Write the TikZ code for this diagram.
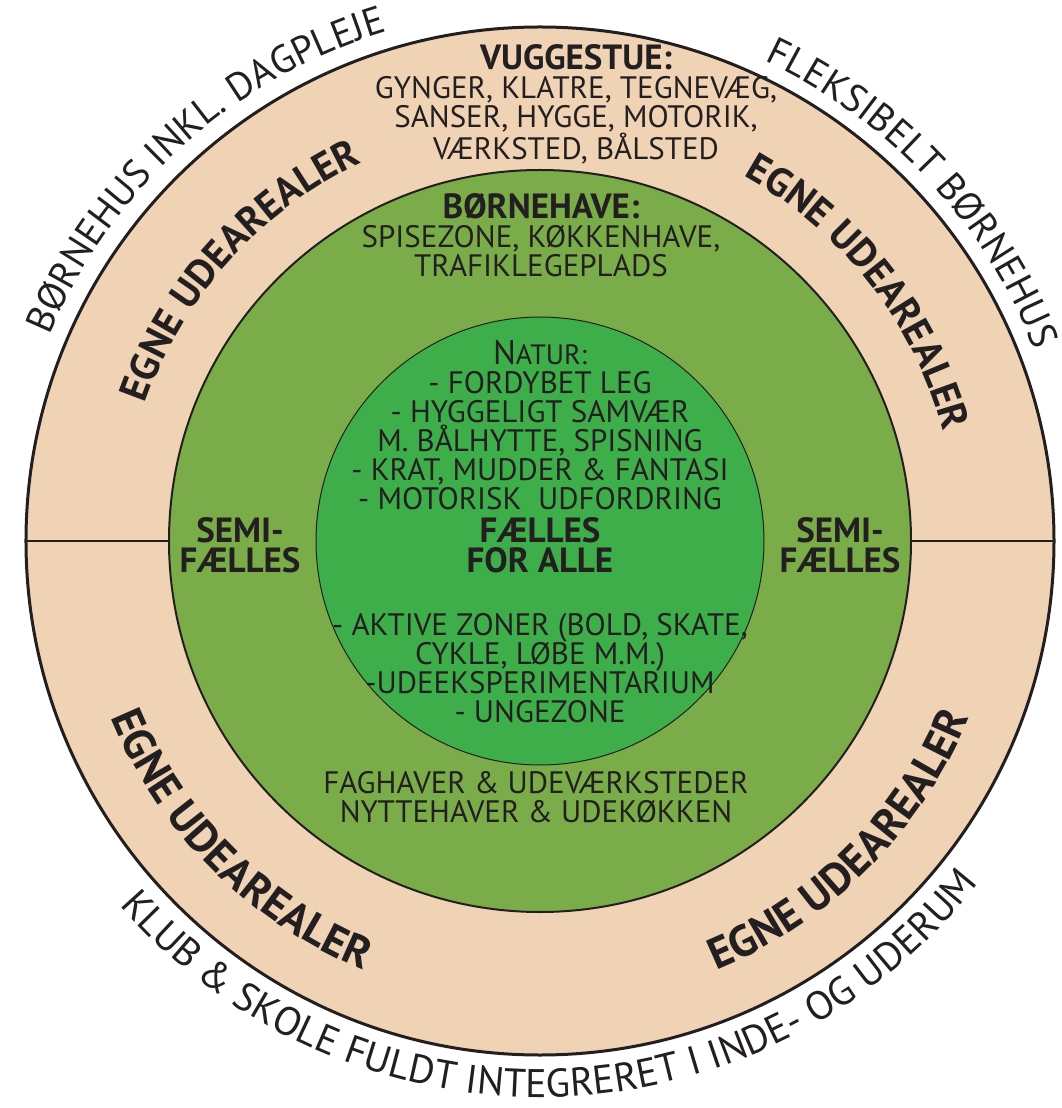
\documentclass[tikz,border=0pt]{standalone}
\usepackage{fontspec}
\setmainfont{PT Sans}
\usetikzlibrary{decorations.text}
\definecolor{sand}{HTML}{EFD3B4}
\definecolor{grass}{HTML}{7AAD4A}
\definecolor{leaf}{HTML}{3EAE4A}
\definecolor{ink}{HTML}{231F20}
\tikzset{
  zone/.style={circle, draw=ink, inner sep=0pt, outer sep=0pt},
  body/.style={text=ink, align=center, inner sep=0pt, font=\fontsize{31}{29}\selectfont},
  head/.style={text=ink, align=center, inner sep=0pt, font=\bfseries\fontsize{35}{30}\selectfont},
}
\begin{document}
\begin{tikzpicture}[x=1pt,y=1pt]
\useasboundingbox (-540,-567) rectangle (522,541);
% rings
\node[zone, fill=sand, line width=3pt, minimum size=1028pt] (outer) at (0,0) {};
\node[zone, fill=grass, line width=2pt, minimum size=742pt] (mid) at (0,0) {};
\node[zone, fill=leaf, line width=1pt, minimum size=448pt] (inner) at (0,0) {};
\draw[ink, line width=2.5pt] (outer.west) -- (mid.west);
\draw[ink, line width=2.5pt] (mid.east) -- (outer.east);
% outer labels
\path[decorate, decoration={text along path, text align=center,
  text={|\color{ink}\fontsize{39}{39}\selectfont|BØRNEHUS INKL. DAGPLEJE}}]
  (182:532) arc[start angle=182, end angle=82, radius=532];
\path[decorate, decoration={text along path, text align=center,
  text={|\color{ink}\fontsize{39}{39}\selectfont|FLEKSIBELT BØRNEHUS}}]
  (93:530) arc[start angle=93, end angle=-7, radius=530];
\path[decorate, decoration={text along path, text align=center,
  text={|\color{ink}\fontsize{40}{40}\selectfont|KLUB {\&} SKOLE FULDT INTEGRERET I INDE- OG UDERUM}}]
  (201:556) arc[start angle=201, end angle=342, radius=556];
% egne udearealer
\path[decorate, decoration={text along path, text align=center,
  text={|\color{ink}\bfseries\fontsize{40}{40}\selectfont|EGNE UDEAREALER}}]
  (178:418) arc[start angle=178, end angle=98, radius=418];
\path[decorate, decoration={text along path, text align=center,
  text={|\color{ink}\bfseries\fontsize{40}{40}\selectfont|EGNE UDEAREALER}}]
  (78:418) arc[start angle=78, end angle=-2, radius=418];
\path[decorate, decoration={text along path, text align=center,
  text={|\color{ink}\bfseries\fontsize{44}{44}\selectfont|EGNE UDEAREALER}}]
  (180:464) arc[start angle=180, end angle=270, radius=464];
\path[decorate, decoration={text along path, text align=center,
  text={|\color{ink}\bfseries\fontsize{44}{44}\selectfont|EGNE UDEAREALER}}]
  (270:464) arc[start angle=270, end angle=360, radius=464];
% text blocks
\node[body] (vuggestue) at (36,437) {{\bfseries\fontsize{35}{29}\selectfont VUGGESTUE:}\\
  GYNGER, KLATRE, TEGNEVÆG,\\SANSER, HYGGE, MOTORIK,\\VÆRKSTED, BÅLSTED};
\node[body] (boernehave) at (1,306) {{\bfseries\fontsize{35}{29}\selectfont BØRNEHAVE:}\\
  SPISEZONE, KØKKENHAVE,\\TRAFIKLEGEPLADS};
\node[body] (natur) at (0,116) {{\fontsize{34}{29}\selectfont N}{\fontsize{28}{29}\selectfont ATUR:}\\
  - FORDYBET LEG\\- HYGGELIGT SAMVÆR\\M. BÅLHYTTE, SPISNING\\
  - KRAT, MUDDER \& FANTASI\\- MOTORISK \ UDFORDRING};
\node[head] (faelles) at (0,-4) {FÆLLES\\FOR ALLE};
\node[body] (aktiv) at (0,-127) {- AKTIVE ZONER (BOLD, SKATE,\\CYKLE, LØBE M.M.)\\
  -UDEEKSPERIMENTARIUM\\- UNGEZONE};
\node[body] (faghaver) at (-4,-256) {FAGHAVER \& UDEVÆRKSTEDER\\NYTTEHAVER \& UDEKØKKEN};
\node[head] (semileft) at (-300,-4) {SEMI-\\FÆLLES};
\node[head] (semiright) at (300,-4) {SEMI-\\FÆLLES};
\end{tikzpicture}
\end{document}
